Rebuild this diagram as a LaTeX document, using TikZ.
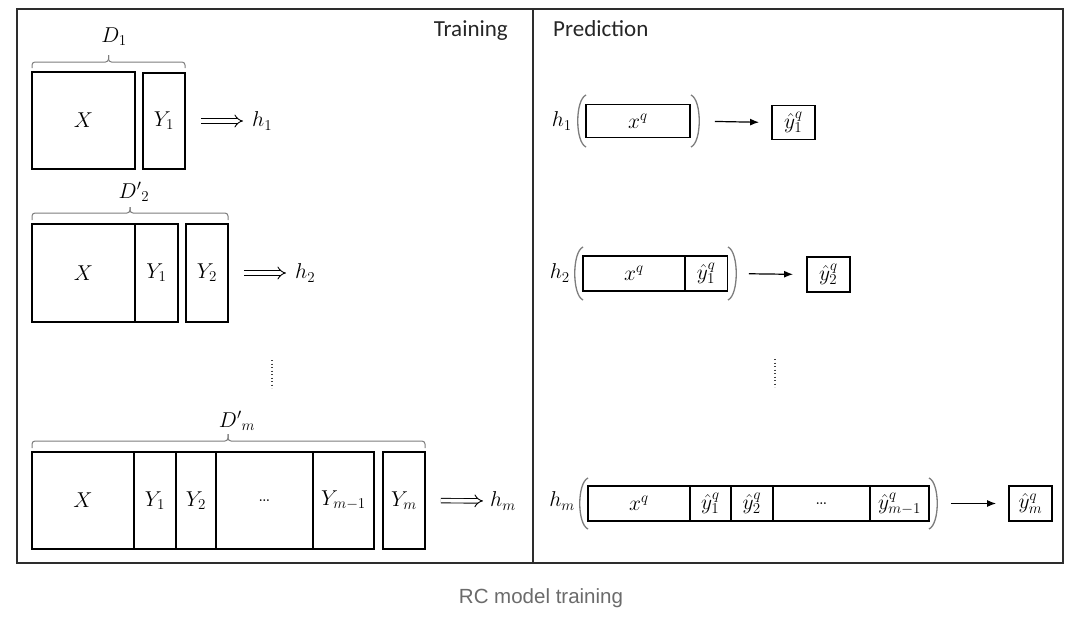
\documentclass[tikz,border=0pt]{standalone}
\usepackage{fix-cm}
\usepackage{fontspec}
\newfontfamily\calibfont{Carlito}
\newfontfamily\capfont{Liberation Sans}
\usetikzlibrary{arrows.meta}
\definecolor{framec}{RGB}{45,45,45}
\definecolor{bracec}{RGB}{125,125,125}
\definecolor{capc}{RGB}{107,107,107}
\newcommand\dmathfont{\fontsize{21.5}{25}\selectfont}
\begin{document}
\begin{tikzpicture}[x=1pt,y=-1pt,
  cell/.style={draw=black, line width=1.9pt, inner sep=0pt, font=\dmathfont},
  lab/.style={inner sep=0pt, font=\dmathfont},
  title/.style={inner sep=0pt, font=\calibfont\fontsize{23}{27}\selectfont, text=black!85},
  brc/.style={draw=bracec, line width=1pt, rounded corners=3pt},
  prn/.style={draw=bracec, line width=1.3pt},
  dbl/.style={draw=black, line width=0.9pt, double, double distance=3.6pt, -{Implies}},
  arr/.style={draw=black, line width=1.2pt, -{Latex[length=9pt,width=7pt]}},
  dotline/.style={draw=black!75, line width=1.5pt, dash pattern=on 1.2pt off 2.3pt},
  framestyle/.style={draw=framec, line width=1.5pt}
]
\useasboundingbox (0,0) rectangle (1080,632);
\fill[white] (0,0) rectangle (1080,632);

% frame and divider
\draw[framestyle] (17,9) rectangle (1063,563);
\draw[framestyle] (533,9) -- (533,563);

\node[title, anchor=base east] (train) at (508,36) {Training};
\node[title, anchor=base west] (pred) at (553,36) {Prediction};

% ---------- Training row 1
\node[lab] (D1) at (114,37) {$D_1$};
\draw[brc] (32,68) -- (32,62) -- (108.5,62) -- (108.5,55);
\draw[brc] (185,68) -- (185,62) -- (108.5,62) -- (108.5,55);
\node[cell, minimum width=103, minimum height=97] (aX) at (83.5,120.5) {$X$};
\node[cell, minimum width=42, minimum height=96] (aY1) at (164,121) {$Y_1$};
\node[lab, anchor=west] (ah) at (252,121) {$h_1$};
\draw[dbl, shorten <=15pt, shorten >=9pt] (aY1.east) -- (ah.west);

% ---------- Training row 2
\node[lab] (D2) at (134,192) {${D'}_2$};
\draw[brc] (32,220) -- (32,213) -- (130,213) -- (130,207);
\draw[brc] (228,220) -- (228,213) -- (130,213) -- (130,207);
\node[cell, minimum width=103, minimum height=98] (bX) at (83.5,273) {$X$};
\node[cell, minimum width=43, minimum height=98] (bY1) at (156.5,273) {$Y_1$};
\node[cell, minimum width=42, minimum height=98] (bY2) at (207,273) {$Y_2$};
\node[lab, anchor=west] (bh) at (295,273) {$h_2$};
\draw[dbl, shorten <=15pt, shorten >=9pt] (bY2.east) -- (bh.west);

% dots
\draw[dotline] (272,360) -- (272,388);

% ---------- Training row m
\node[lab] (Dm) at (237,421) {${D'}_m$};
\draw[brc] (32,448) -- (32,441) -- (228,441) -- (228,434);
\draw[brc] (425,448) -- (425,441) -- (228,441) -- (228,434);
\node[cell, minimum width=102, minimum height=97] (cX) at (83,500.5) {$X$};
\node[cell, minimum width=42, minimum height=97] (cY1) at (155,500.5) {$Y_1$};
\node[cell, minimum width=40, minimum height=97] (cY2) at (196,500.5) {$Y_2$};
\node[cell, minimum width=97, minimum height=97] (cD) at (264.5,500.5) {…};
\node[cell, minimum width=61, minimum height=97] (cYm1) at (343.5,500.5) {$Y_{m-1}$};
\node[cell, minimum width=42, minimum height=97] (cYm) at (404,500.5) {$Y_m$};
\node[lab, anchor=west] (ch) at (490,501) {$h_m$};
\draw[dbl, shorten <=15pt, shorten >=7pt] (cYm.east) -- (ch.west);

% ---------- Prediction row 1
\node[lab, anchor=east] (ph1) at (572,121) {$h_1$};
\draw[prn] (586,95) .. controls (575,100) and (575,142) .. (586,147);
\node[cell, minimum width=104, minimum height=33] (pX1) at (638,121) {$x^q$};
\draw[prn] (691,95) .. controls (702,100) and (702,142) .. (691,147);
\node[cell, minimum width=43, minimum height=34] (pY1) at (793.5,122.5) {$\hat{y}_1^q$};
\draw[arr, shorten <=24pt, shorten >=12pt] (pX1.east) -- (pY1.west);

% ---------- Prediction row 2
\node[lab, anchor=east] (ph2) at (570,273) {$h_2$};
\draw[prn] (583,247) .. controls (572,252) and (572,295) .. (583,300);
\node[cell, minimum width=102, minimum height=35] (qX) at (634,273.5) {$x^q$};
\node[cell, minimum width=42.5, minimum height=35] (qY1) at (706.25,273.5) {$\hat{y}_1^q$};
\draw[prn] (728,247) .. controls (739,252) and (739,295) .. (728,300);
\node[cell, minimum width=43, minimum height=35] (qY2) at (828.5,274.5) {$\hat{y}_2^q$};
\draw[arr, shorten <=20.5pt, shorten >=13pt] (qY1.east) -- (qY2.west);

% dots
\draw[dotline] (775,359) -- (775,387);

% ---------- Prediction row m
\node[lab, anchor=east] (phm) at (575,501) {$h_m$};
\draw[prn] (588,478) .. controls (577,483) and (577,524) .. (588,529);
\node[cell, minimum width=102, minimum height=35] (rX) at (639,503.5) {$x^q$};
\node[cell, minimum width=41, minimum height=35] (rY1) at (710.5,503.5) {$\hat{y}_1^q$};
\node[cell, minimum width=42, minimum height=35] (rY2) at (752,503.5) {$\hat{y}_2^q$};
\node[cell, minimum width=97, minimum height=35] (rD) at (821.5,503.5) {…};
\node[cell, minimum width=59, minimum height=35] (rYm1) at (899.5,503.5) {$\hat{y}_{m-1}^q$};
\draw[prn] (929,478) .. controls (940,483) and (940,524) .. (929,529);
\node[cell, minimum width=43, minimum height=35] (rYm) at (1030.5,503.5) {$\hat{y}_m^q$};
\draw[arr, shorten <=21pt, shorten >=12pt] (rYm1.east) -- (rYm.west);

% caption
\node[inner sep=0pt, anchor=base, font=\capfont\fontsize{20.5}{24}\selectfont, text=capc] (cap) at (541,603) {RC model training};
\end{tikzpicture}
\end{document}
